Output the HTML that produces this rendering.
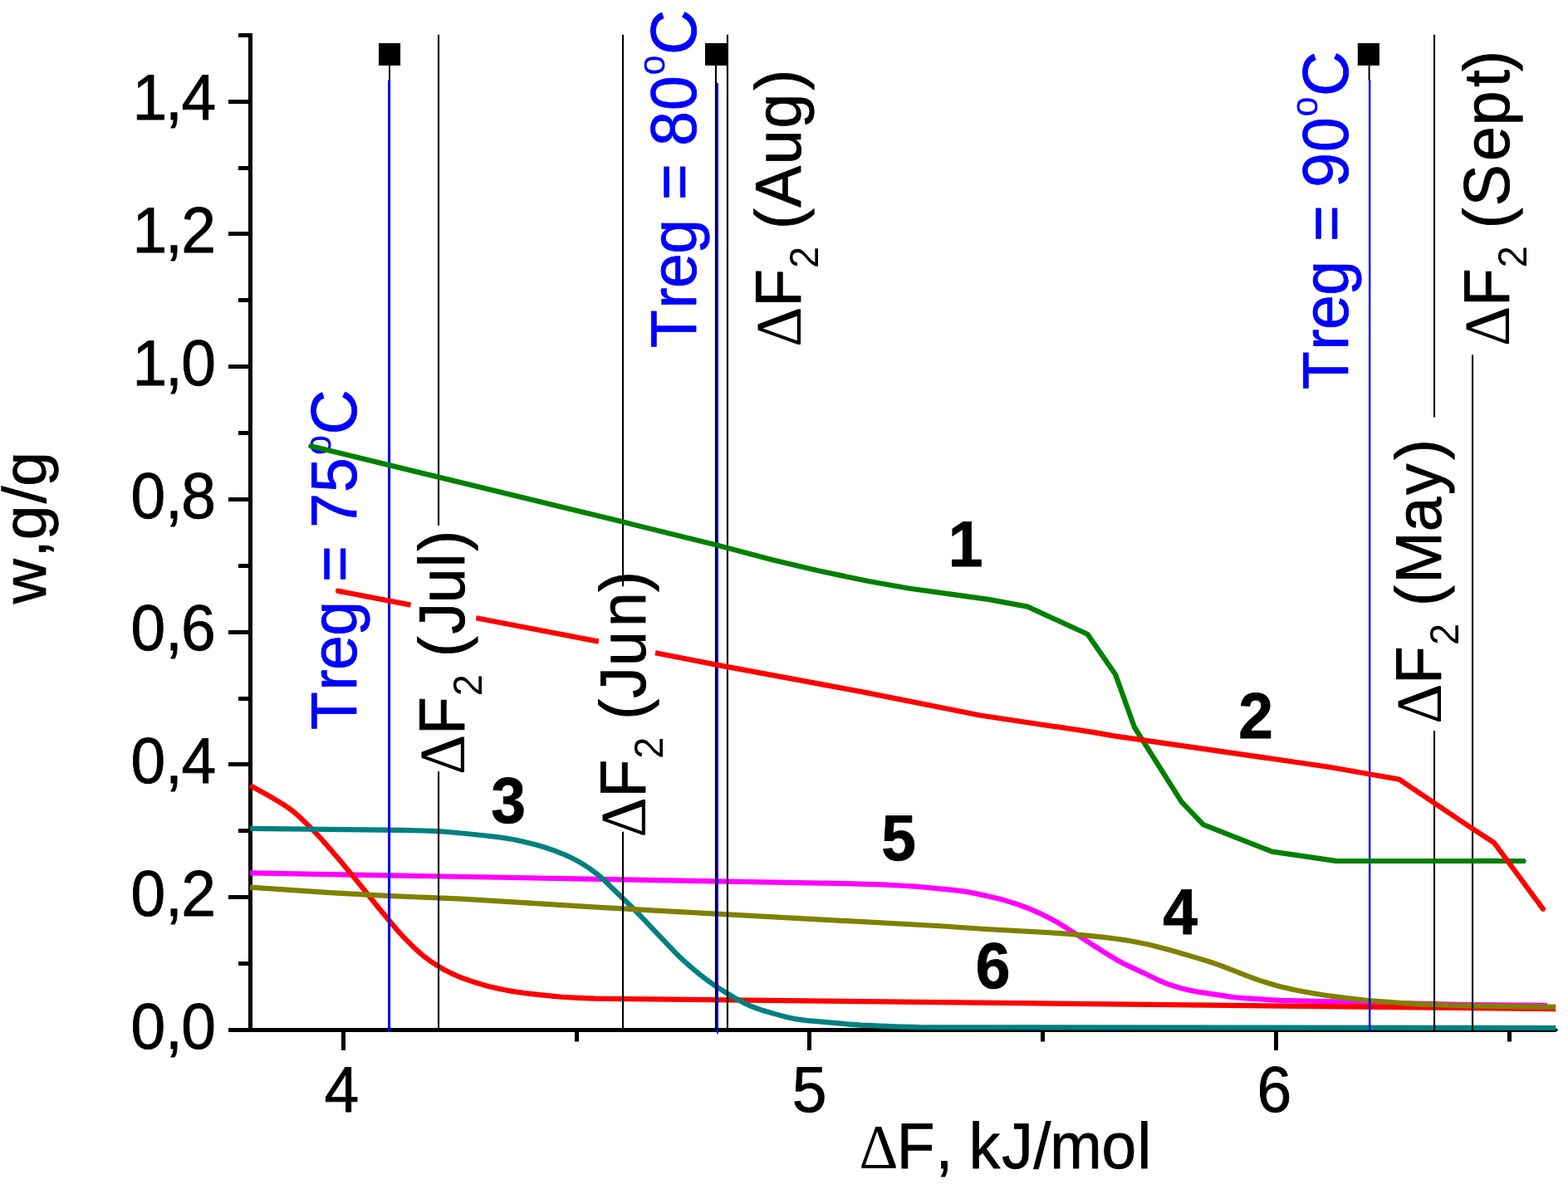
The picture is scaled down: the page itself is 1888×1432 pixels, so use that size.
<!DOCTYPE html>
<html lang="en"><head><meta charset="utf-8"><title>w vs ΔF</title>
<style>html,body{margin:0;padding:0;background:#fff}svg{display:block}text{font-family:'Liberation Sans', sans-serif;font-size:75px;fill:#000;font-kerning:none;font-variant-ligatures:none;text-rendering:geometricPrecision;white-space:pre;stroke:#000;stroke-width:.8px;stroke-linejoin:round}.b{font-weight:bold}.bl{fill:#00f;stroke:#00f}.sy{font-family:'Liberation Serif', serif;stroke-width:0}.sm{stroke-width:0}.c{fill:none;stroke-width:6.2;stroke-linejoin:round;stroke-linecap:round}.cb{stroke-linecap:butt}</style></head><body>
<svg width="1888" height="1432" viewBox="0 0 1888 1432">
<rect width="1888" height="1432" fill="#fff"/>
<g id="axes">
<rect x="299" y="40" width="5" height="1203"/>
<rect x="275" y="1238" width="1598.5" height="5"/>
<path d="M1873 1238 L1876.5 1240.5 L1873 1243 Z"/>
<rect x="287" y="1158" width="13" height="5"/>
<rect x="275" y="1078" width="25" height="5"/>
<rect x="287" y="998" width="13" height="5"/>
<rect x="275" y="918" width="25" height="5"/>
<rect x="287" y="839" width="13" height="5"/>
<rect x="275" y="759" width="25" height="5"/>
<rect x="287" y="679" width="13" height="5"/>
<rect x="275" y="599" width="25" height="5"/>
<rect x="287" y="519" width="13" height="5"/>
<rect x="275" y="439" width="25" height="5"/>
<rect x="287" y="359" width="13" height="5"/>
<rect x="275" y="279" width="25" height="5"/>
<rect x="287" y="200" width="13" height="5"/>
<rect x="275" y="120" width="25" height="5"/>
<rect x="287" y="40" width="13" height="5"/>
<rect x="411" y="1242" width="5" height="23"/>
<rect x="972" y="1242" width="5" height="23"/>
<rect x="1534" y="1242" width="5" height="23"/>
<rect x="692" y="1242" width="5" height="12.5"/>
<rect x="1253" y="1242" width="5" height="12.5"/>
<rect x="1815" y="1242" width="5" height="12.5"/>
</g>
<g id="curves-lower">
<polyline class="c cb" stroke="#f0f" points="301.2,1051.3 1027.04,1064.32 1062.08,1065.47 1092.11,1067 1102.12,1067.65 1112.13,1068.5 1147.17,1071.92 1157.19,1073.06 1162.19,1073.78 1167.2,1074.64 1177.21,1076.61 1192.23,1079.89 1202.24,1082.35 1212.25,1085.1 1217.26,1086.6 1222.26,1088.21 1227.27,1089.93 1232.27,1091.74 1237.28,1093.64 1242.28,1095.65 1247.29,1097.79 1252.3,1100.06 1257.3,1102.46 1262.31,1104.98 1267.31,1107.59 1272.32,1110.36 1277.32,1113.33 1297.35,1126 1317.37,1139.15 1332.39,1148.58 1337.39,1151.65 1342.4,1154.63 1347.41,1157.48 1352.41,1160.15 1357.42,1162.67 1367.43,1167.39 1377.44,1171.99 1392.46,1179.24 1397.46,1181.57 1402.47,1183.72 1407.47,1185.59 1412.48,1187.25 1417.49,1188.79 1422.49,1190.21 1427.5,1191.5 1432.5,1192.66 1437.51,1193.67 1442.52,1194.57 1477.56,1199.91 1482.56,1200.62 1487.57,1201.23 1497.58,1202.15 1527.61,1204.07 1542.63,1204.8 1757.88,1209.93 1863,1210.9"/>
<polyline class="c cb" stroke="#f00" points="301.2,946.1 311.21,951.43 321.23,957.06 331.24,962.85 336.24,965.8 341.25,968.91 346.26,972.24 351.26,975.88 356.27,979.95 361.28,984.41 366.28,989.16 371.29,994.11 376.3,999.17 381.3,1004.34 386.31,1009.77 391.31,1015.4 406.33,1032.82 411.34,1038.7 421.35,1050.7 436.37,1069.01 451.39,1087.77 456.4,1093.94 471.42,1112.08 476.42,1118.01 481.43,1123.71 486.44,1129.1 491.44,1134.19 496.45,1139.15 501.45,1143.92 506.46,1148.41 511.47,1152.55 516.47,1156.28 521.48,1159.73 526.49,1162.96 531.49,1165.96 536.5,1168.74 541.51,1171.28 546.51,1173.6 551.52,1175.76 556.52,1177.77 561.53,1179.65 566.54,1181.39 571.54,1183.03 576.55,1184.57 581.56,1186.03 586.56,1187.4 591.57,1188.67 596.58,1189.85 606.59,1191.97 616.6,1193.83 621.61,1194.65 631.62,1196.05 666.66,1199.86 676.68,1200.76 696.7,1201.87 716.73,1202.61 1873.2,1215.2"/>
<polyline class="c cb" stroke="#008080" points="301.2,997.9 486.44,999.92 511.47,1000.52 526.49,1001.15 536.5,1001.78 566.54,1004.49 591.57,1007.22 601.58,1008.45 611.59,1009.93 616.6,1010.81 621.61,1011.8 631.62,1014.03 641.63,1016.5 646.64,1017.84 651.65,1019.28 656.65,1020.82 661.66,1022.45 666.66,1024.18 671.67,1026.04 676.68,1028.02 681.68,1030.16 686.69,1032.46 691.7,1034.93 696.7,1037.62 701.71,1040.58 706.72,1043.79 711.72,1047.25 716.73,1050.94 721.74,1054.86 726.74,1059.33 731.75,1064.21 736.75,1069.22 756.78,1088.56 761.79,1093.48 766.79,1098.48 771.8,1103.63 791.82,1124.97 806.84,1140.72 811.85,1145.91 816.86,1150.94 821.86,1155.72 826.87,1160.26 831.88,1164.66 836.88,1168.91 841.89,1173 846.89,1176.91 851.9,1180.65 856.91,1184.25 861.91,1187.71 866.92,1191.03 871.93,1194.21 876.93,1197.25 886.95,1203.07 891.95,1205.84 896.96,1208.43 901.96,1210.79 906.97,1212.86 911.98,1214.72 916.98,1216.42 921.99,1218 932,1220.88 942.02,1223.62 947.02,1224.91 952.03,1226.08 957.03,1227.07 962.04,1227.85 972.05,1229.07 1022.12,1233.54 1037.14,1234.63 1077.19,1236.36 1107.23,1237.16 1873.2,1238"/>
<polyline class="c cb" stroke="#808000" points="301.2,1068.7 401.33,1075.42 471.42,1079.14 556.52,1082.68 726.74,1093.17 1132.26,1115.24 1182.32,1118.73 1262.42,1123.14 1287.45,1124.87 1307.48,1126.58 1327.51,1128.68 1342.52,1130.53 1352.54,1131.91 1362.55,1133.56 1372.56,1135.46 1382.58,1137.56 1392.59,1139.96 1412.61,1145.3 1447.66,1155.65 1457.67,1158.77 1462.68,1160.43 1467.68,1162.19 1507.74,1177.56 1512.74,1179.4 1517.75,1181.12 1527.76,1184.27 1537.77,1187.16 1542.78,1188.47 1552.79,1190.85 1562.81,1192.98 1577.82,1195.81 1592.84,1198.3 1607.86,1200.43 1627.89,1202.9 1647.91,1204.97 1687.96,1208.14 1707.99,1209.39 1753.05,1210.99 1853.17,1212.6 1873.2,1212.7"/>
</g>
<g id="vlines">
<rect x="527" y="41.8" width="2.1" height="591"/>
<rect x="527" y="929" width="2.1" height="312"/>
<rect x="749" y="41.8" width="2.1" height="664.4"/>
<rect x="749" y="1001.8" width="2.1" height="239.2"/>
<rect x="874.9" y="41.8" width="2.1" height="1199.2"/>
<rect x="1726" y="41.8" width="2.1" height="460.7"/>
<rect x="1726" y="880.2" width="2.1" height="360.8"/>
<rect x="1772" y="427.4" width="2.1" height="813.6"/>
<rect x="468" y="79" width="2" height="18"/>
<rect x="860.9" y="79" width="2.1" height="1162"/>
<rect x="1647.6" y="79" width="2" height="18"/>
<rect x="467" y="96.6" width="3.1" height="1146.4" fill="#00f"/>
<rect x="863" y="99.8" width="2" height="1145.2" fill="#00f"/>
<rect x="1648" y="96.3" width="2.4" height="1144.7" fill="#00f"/>
<rect x="456" y="52" width="26.1" height="26.9"/>
<rect x="849" y="52" width="27.4" height="26.9"/>
<rect x="1634.8" y="52" width="26.2" height="26.9"/>
</g>
<g id="labels">
<text transform="translate(0 1262.5) scale(1 1.04)" x="157.44 199.08 218.24">0,0</text>
<text transform="translate(0 1102.75) scale(1 1.04)" x="157.44 199.08 218.24">0,2</text>
<text transform="translate(0 943) scale(1 1.04)" x="157.44 199.08 218.48">0,4</text>
<text transform="translate(0 783.25) scale(1 1.04)" x="157.44 199.08 217.99">0,6</text>
<text transform="translate(0 623.5) scale(1 1.04)" x="157.44 199.08 218.24">0,8</text>
<text transform="translate(0 463.75) scale(1 1.04)" x="159.62 199.08 218.24">1,0</text>
<text transform="translate(0 304) scale(1 1.04)" x="159.62 199.08 218.24">1,2</text>
<text transform="translate(0 144.25) scale(1 1.04)" x="159.62 199.08 218.48">1,4</text>
<text transform="translate(411.4 1339) scale(1 1.04)" text-anchor="middle">4</text>
<text transform="translate(974.6 1339) scale(1 1.04)" text-anchor="middle">5</text>
<text transform="translate(1534.4 1339) scale(1 1.04)" text-anchor="middle">6</text>
<text transform="translate(0 1407.1) scale(1 1.04)" x="1034.56 1079.72 1126.53 1147.37 1166.77 1206.25 1244.38 1264.19 1326.44 1369.45"><tspan class="sy" font-size="73">Δ</tspan>F, kJ/mol</text>
<text transform="translate(54.9 0) rotate(-90) scale(1 0.98)" x="-727.17 -671.27 -650.26 -606.32 -585.66">w,g/g</text>
<text transform="translate(1162.5 682.2) scale(1 1.04)" text-anchor="middle" class="b">1</text>
<text transform="translate(1512 889) scale(1 1.04)" text-anchor="middle" class="b">2</text>
<text transform="translate(612 991) scale(1 1.04)" text-anchor="middle" class="b">3</text>
<text transform="translate(1421 1125) scale(1 1.04)" text-anchor="middle" class="b">4</text>
<text transform="translate(1082 1036) scale(1 1.04)" text-anchor="middle" class="b">5</text>
<text transform="translate(1195.6 1190) scale(1 1.04)" text-anchor="middle" class="b">6</text>
<text transform="translate(428.6 0) rotate(-90) scale(1 1.04)" class="bl" x="-878.94 -831.61 -806.93 -765.86 -724.15 -701.03 -657.23 -635.74 -592.98 -548.1 -523.61" y="0 0 0 0 0 0 0 0 0 -29.81 0">Treg = 75<tspan class="sm" font-size="43.5">o</tspan>C</text>
<text transform="translate(837.5 0) rotate(-90) scale(1 1.04)" class="bl" x="-418.94 -371.61 -346.93 -305.86 -264.15 -241.03 -197.23 -175.71 -133.06 -90.5 -66.01" y="0 0 0 0 0 0 0 0 0 -35.58 0">Treg = 80<tspan class="sm" font-size="43.5">o</tspan>C</text>
<text transform="translate(1623.4 0) rotate(-90) scale(1 1.04)" class="bl" x="-468.94 -421.61 -396.93 -355.86 -314.15 -291.03 -247.23 -225.69 -183.06 -140.5 -116.01" y="0 0 0 0 0 0 0 0 0 -35.58 0">Treg = 90<tspan class="sm" font-size="43.5">o</tspan>C</text>
<text transform="translate(558.5 0) rotate(-90) scale(1 1.04)" x="-932.98 -885.08 -838.32 -812.18 -791.29 -763.45 -726.35 -683.25 -663.68" y="0 0 20.19 0 0 0 0 0 0"><tspan class="sy">Δ</tspan>F<tspan class="sm" font-size="47">2</tspan> (Jul)</text>
<text transform="translate(777.2 0) rotate(-90) scale(1 1.04)" x="-1008.48 -960.58 -913.82 -887.68 -866.79 -840.8 -802.05 -754.91 -712.98" y="0 0 20.19 0 0 0 0 0 0"><tspan class="sy">Δ</tspan>F<tspan class="sm" font-size="47">2</tspan> (Jun)</text>
<text transform="translate(963.5 0) rotate(-90) scale(1 1.04)" x="-417.68 -369.78 -323.02 -296.88 -275.99 -249.66 -198.3 -154.51 -108.68" y="0 0 20.19 0 0 0 0 0 0"><tspan class="sy">Δ</tspan>F<tspan class="sm" font-size="47">2</tspan> (Aug)</text>
<text transform="translate(1735 0) rotate(-90) scale(1 1.04)" x="-871.78 -823.88 -777.12 -750.98 -730.09 -702.84 -640.35 -596.12 -553.93" y="0 0 20.19 0 0 0 0 0 0"><tspan class="sy">Δ</tspan>F<tspan class="sm" font-size="47">2</tspan> (May)</text>
<text transform="translate(1817.2 0) rotate(-90) scale(1 1.04)" x="-416.88 -368.98 -322.22 -296.08 -275.19 -248.29 -193.98 -151.35 -104.96 -85.98" y="0 0 20.19 0 0 0 0 0 0 0"><tspan class="sy">Δ</tspan>F<tspan class="sm" font-size="47">2</tspan> (Sept)</text>
</g>
<g id="curves-upper">
<polyline class="c" stroke="#008000" points="374.4,537.3 750,628.6 863,656.6 930,674.3 985,687.3 1047,700.3 1095.3,708.8 1150.3,716.4 1190,721.9 1237.2,730.6 1309.4,763.7 1343.2,812.6 1366,876 1422.6,965.7 1448.8,993.2 1531.4,1025.6 1608.5,1036.9 1834.6,1037"/>
<polyline class="c cb" stroke="#f00" points="407,711.7 494.6,728.6"/>
<polyline class="c" stroke="#f00" points="407,711.7 412,712.7"/>
<polyline class="c cb" stroke="#f00" points="573.2,744.2 720.8,772.6"/>
<polyline class="c cb" stroke="#f00" points="789,786.3 862.6,800.6"/>
<polyline class="c" stroke="#f00" points="862.6,800.6 1040,833.6 1180,861.5 1317.7,882.1 1340,886.1 1600,923.7 1648.5,932.2 1684.7,938.6 1727.25,967.25 1773.2,998.2 1799,1014.9 1858,1094.8"/>
</g>
</svg></body></html>
